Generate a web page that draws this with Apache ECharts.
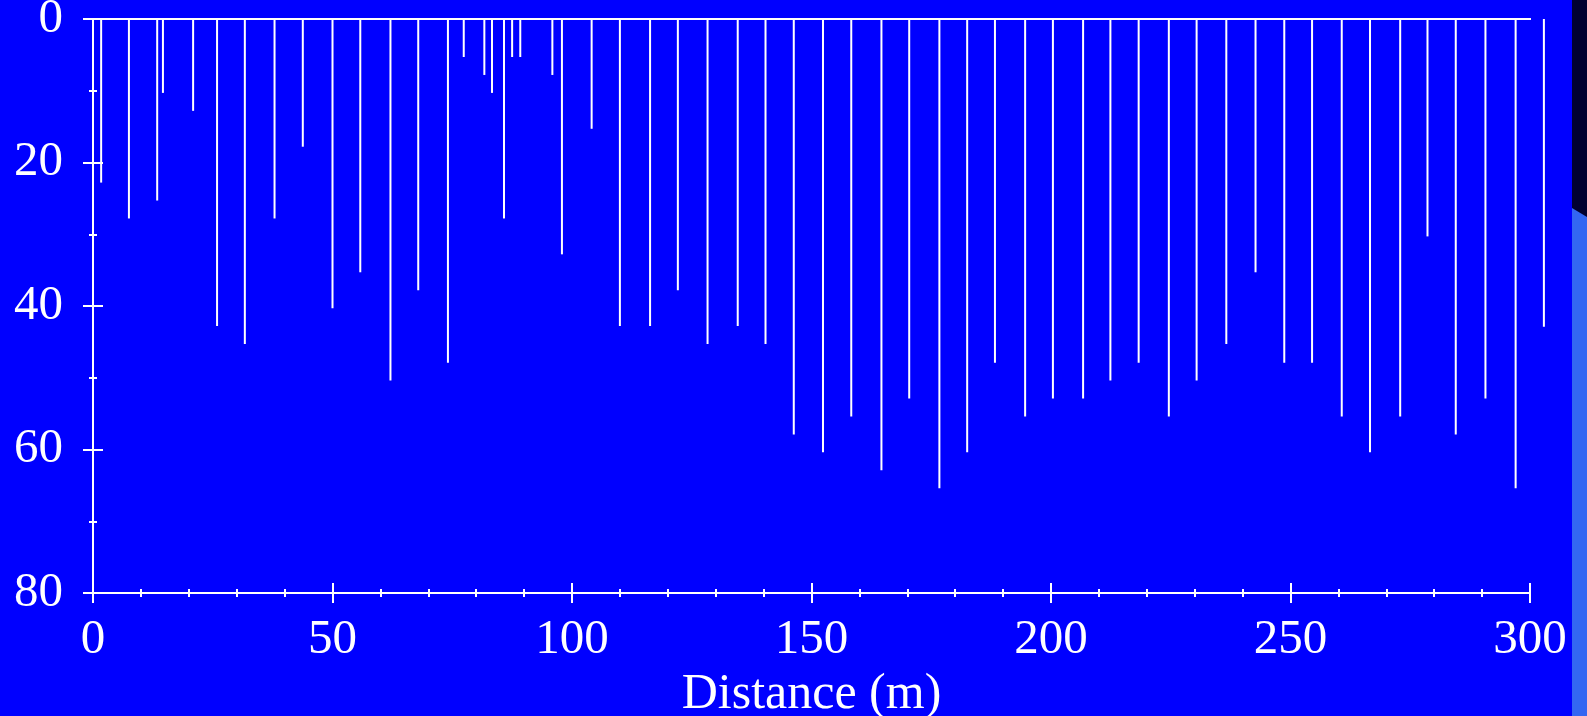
<!DOCTYPE html>
<html>
<head>
<meta charset="utf-8">
<script src="https://cdn.jsdelivr.net/npm/echarts@6/dist/echarts.min.js"></script>
<style>
html,body{margin:0;padding:0;background:#0000FF;}
#chart{width:1587px;height:716px;}
</style>
</head>
<body>
<div id="chart"></div>
<script>
// Distance along profile (m)
const distance = [1.7, 7.5, 13.4, 14.6, 20.9, 25.9, 31.7, 37.9, 43.8, 50.0,
  55.8, 62.1, 67.9, 74.1, 77.4, 81.7, 83.3, 85.8, 87.5, 89.2,
  95.9, 97.9, 104.1, 110.0, 116.3, 122.1, 128.3, 134.6, 140.4, 146.3,
  152.4, 158.3, 164.6, 170.4, 176.7, 182.5, 188.3, 194.6, 200.4, 206.7,
  212.4, 218.3, 224.6, 230.4, 236.6, 242.7, 248.7, 254.5, 260.7, 266.6,
  272.9, 278.6, 284.5, 290.7, 297.0, 302.9];
// Depth of each line (m)
const depth = [22.8, 27.8, 25.3, 10.3, 12.8, 42.8, 45.3, 27.8, 17.8, 40.3,
  35.3, 50.4, 37.8, 47.9, 5.3, 7.8, 10.3, 27.8, 5.3, 5.3,
  7.8, 32.8, 15.3, 42.8, 42.8, 37.8, 45.3, 42.8, 45.3, 57.9,
  60.4, 55.4, 62.9, 52.9, 65.4, 60.4, 47.9, 55.4, 52.9, 52.9,
  50.4, 47.9, 55.4, 50.4, 45.3, 35.3, 47.9, 47.9, 55.4, 60.4,
  55.4, 30.3, 57.9, 52.9, 65.4, 42.9];
const xTicks = [0, 50, 100, 150, 200, 250, 300];
const yTicks = [0, 20, 40, 60, 80];
const xName = 'Distance (m)';
const surfaceDepth = 0;

const lines = distance.map((d, i) => [d, depth[i]]);
const surface = [[0, surfaceDepth], [Math.max(...distance), surfaceDepth]];

const FONT = '"Liberation Serif", "Times New Roman", serif';
const WHITE = '#FFFFFF';

const chart = echarts.init(document.getElementById('chart'), null, {renderer: 'canvas'});

const xBase = {
  type: 'value', min: xTicks[0], max: xTicks[xTicks.length - 1],
  interval: xTicks[1] - xTicks[0], position: 'bottom',
  axisLine: {show: true, onZero: false, lineStyle: {color: WHITE, width: 2}},
  splitLine: {show: false}
};
const yBase = {
  type: 'value', inverse: true, min: yTicks[0], max: yTicks[yTicks.length - 1],
  interval: yTicks[1] - yTicks[0], position: 'left',
  axisLine: {show: true, onZero: false, lineStyle: {color: WHITE, width: 2}},
  splitLine: {show: false}
};

chart.setOption({
  backgroundColor: '#0000FF',
  animation: false,
  grid: {left: 93, right: 57, top: 19, bottom: 123, containLabel: false, outerBoundsMode: 'none'},
  xAxis: [
    Object.assign({}, xBase, {
      name: xName, nameLocation: 'middle', nameGap: 77,
      nameTextStyle: {color: WHITE, fontFamily: FONT, fontSize: 50},
      axisTick: {show: true, inside: false, length: 10, lineStyle: {color: WHITE, width: 2}},
      minorTick: {show: true, splitNumber: 5, length: 4, lineStyle: {color: WHITE, width: 2}},
      axisLabel: {color: WHITE, fontFamily: FONT, fontSize: 49, margin: 23}
    }),
    Object.assign({}, xBase, {
      axisTick: {show: true, inside: true, length: 10, lineStyle: {color: WHITE, width: 2}},
      minorTick: {show: true, splitNumber: 5, length: 4, lineStyle: {color: WHITE, width: 2}},
      axisLabel: {show: false}
    })
  ],
  yAxis: [
    Object.assign({}, yBase, {
      axisTick: {show: true, inside: false, length: 10, lineStyle: {color: WHITE, width: 2}},
      minorTick: {show: true, splitNumber: 2, length: 4, lineStyle: {color: WHITE, width: 2}},
      axisLabel: {color: WHITE, fontFamily: FONT, fontSize: 49, margin: 30, padding: [6, 0, 0, 0]}
    }),
    Object.assign({}, yBase, {
      axisTick: {show: true, inside: true, length: 10, lineStyle: {color: WHITE, width: 2}},
      minorTick: {show: true, splitNumber: 2, length: 4, lineStyle: {color: WHITE, width: 2}},
      axisLabel: {show: false}
    })
  ],
  series: [
    {
      type: 'line', data: surface, symbol: 'none', silent: true,
      lineStyle: {color: WHITE, width: 2}
    },
    {
      type: 'custom', data: lines, silent: true,
      renderItem: function (params, api) {
        const top = api.coord([api.value(0), surfaceDepth]);
        const bot = api.coord([api.value(0), api.value(1)]);
        return {
          type: 'line',
          shape: {x1: top[0], y1: top[1], x2: bot[0], y2: bot[1]},
          style: {stroke: WHITE, lineWidth: 2}
        };
      }
    }
  ],
  graphic: [
    {type: 'rect', left: 1572, top: 0, shape: {width: 15, height: 716}, style: {fill: '#3366F2'}, silent: true},
    {type: 'polygon', shape: {points: [[1572, 0], [1587, 0], [1587, 217], [1572, 208]]}, style: {fill: '#000030'}, silent: true}
  ]
});
</script>
</body>
</html>
